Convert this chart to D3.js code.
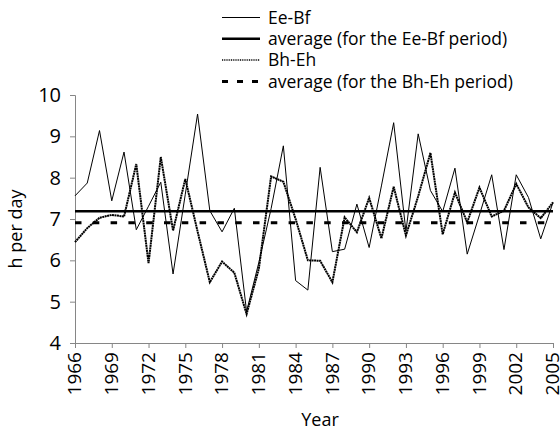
<!DOCTYPE html>
<html>
<head>
<meta charset="utf-8">
<script src="https://cdn.jsdelivr.net/npm/d3@7"></script>
<style>
  body { margin: 0; background: #fff; }
  svg text { font-family: "Open Sans", sans-serif; fill: #000; }
</style>
</head>
<body>
<div id="chart"></div>
<script>
/* heures par jour, deux séries + leurs moyennes */

const years = d3.range(1966, 2006)

const eeBf = [7.56, 7.87, 9.14, 7.44, 8.62, 6.74, 7.31, 7.89, 5.67, 7.6,
              9.54, 7.2, 6.69, 7.26, 4.76, 5.95, 7.25, 8.77, 5.51, 5.28,
              8.25, 6.21, 6.27, 7.36, 6.31, 7.8, 9.33, 6.7, 9.06, 7.69,
              7.18, 8.23, 6.15, 7.1, 8.07, 6.26, 8.07, 7.52, 6.52, 7.4]

const bhEh = [6.44, 6.78, 7.03, 7.1, 7.06, 8.33, 5.93, 8.5, 6.72, 7.97,
              6.7, 5.47, 5.97, 5.7, 4.7, 5.8, 8.03, 7.9, 7.0, 6.0,
              5.99, 5.47, 7.04, 6.68, 7.51, 6.53, 7.78, 6.6, 7.55, 8.6,
              6.63, 7.64, 6.92, 7.76, 7.06, 7.2, 7.85, 7.28, 7.02, 7.4]

const avgEeBf = [7.19, 7.19]
const avgBhEh = [6.91, 6.91]
const avgYears = [1966, 2005]
const avgYearsBh = [1966, 2004.55]

const xTicks = d3.range(1966, 2006, 3)
const yTicks = [4, 5, 6, 7, 8, 9, 10]

const legendLabels = ["Ee-Bf", "average (for the Ee-Bf period)", "Bh-Eh", "average (for the Bh-Eh period)"]

const width = 560, height = 433
const margin = { top: 95, right: 7, bottom: 90, left: 75 }

const svg = d3.select("#chart").append("svg")
    .attr("width", width)
    .attr("height", height)

const x = d3.scaleLinear()
    .domain([1966, 2005])
    .range([margin.left, width - margin.right])

const y = d3.scaleLinear()
    .domain([4, 10])
    .range([height - margin.bottom, margin.top])

const axisColor = "#868686"

/* axe vertical */
const yAxis = svg.append("g")
    .attr("transform", "translate(" + margin.left + ",0)")
    .call(d3.axisLeft(y).tickValues(yTicks).tickSize(5).tickPadding(9).tickFormat(d3.format("d")))
yAxis.select(".domain").attr("stroke", axisColor)
yAxis.selectAll(".tick line").attr("stroke", axisColor)
yAxis.selectAll("text").style("font-size", "20px")

/* axe horizontal */
const xAxis = svg.append("g")
    .attr("transform", "translate(0," + (height - margin.bottom) + ")")
    .call(d3.axisBottom(x).tickValues(xTicks).tickSize(5).tickFormat(d3.format("d")))
xAxis.select(".domain").attr("stroke", axisColor)
xAxis.selectAll(".tick line").attr("stroke", axisColor)
xAxis.selectAll("text")
    .style("font-size", "19px")
    .attr("text-anchor", "end")
    .attr("transform", "rotate(-90)")
    .attr("x", -9)
    .attr("y", 0)
    .attr("dy", "0.3em")

svg.append("text")
    .attr("x", 320)
    .attr("y", 426)
    .attr("text-anchor", "middle")
    .style("font-size", "18px")
    .text("Year")

svg.append("text")
    .attr("transform", "translate(22,229) rotate(-90)")
    .attr("text-anchor", "middle")
    .style("font-size", "18px")
    .text("h per day")

const line = d3.line()
    .x(d => x(d[0]))
    .y(d => y(d[1]))

/* moyennes */
svg.append("path")
    .datum(d3.zip(avgYears, avgEeBf))
    .attr("d", line)
    .attr("fill", "none")
    .attr("stroke", "#000")
    .attr("stroke-width", 2.5)

svg.append("path")
    .datum(d3.zip(avgYearsBh, avgBhEh))
    .attr("d", line)
    .attr("fill", "none")
    .attr("stroke", "#000")
    .attr("stroke-width", 3)
    .attr("stroke-dasharray", "6.5,11.3")

/* séries */
svg.append("path")
    .datum(d3.zip(years, bhEh))
    .attr("d", line)
    .attr("fill", "none")
    .attr("stroke", "#000")
    .attr("stroke-width", 2)
    .attr("stroke-dasharray", "2,0.5")

svg.append("path")
    .datum(d3.zip(years, eeBf))
    .attr("d", line)
    .attr("fill", "none")
    .attr("stroke", "#000")
    .attr("stroke-width", 1)

/* légende */
const legendStyles = [
    { w: 1, dash: null },
    { w: 2.5, dash: null },
    { w: 1.5, dash: "1,0.8" },
    { w: 3, dash: "6,9" }
]

const legend = svg.append("g")
legendLabels.forEach((label, i) => {
    const ly = 17.5 + i * 21.3
    legend.append("line")
        .attr("x1", 222).attr("x2", 260)
        .attr("y1", ly).attr("y2", ly)
        .attr("stroke", "#000")
        .attr("stroke-width", legendStyles[i].w)
        .attr("stroke-dasharray", legendStyles[i].dash)
    legend.append("text")
        .attr("x", 268)
        .attr("y", ly)
        .attr("dy", "0.35em")
        .style("font-size", "17.5px")
        .text(label)
})
</script>
</body>
</html>
